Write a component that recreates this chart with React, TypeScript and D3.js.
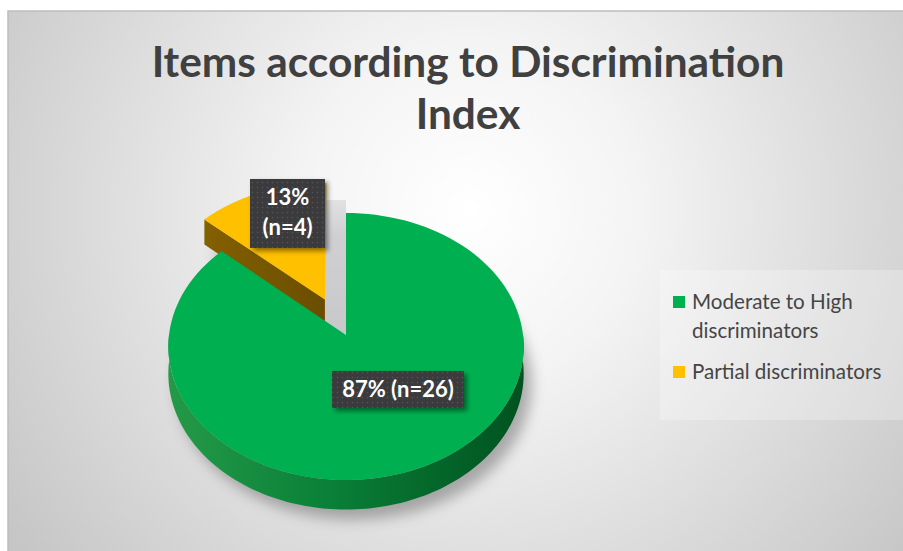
import React from "react";
import * as d3 from "d3";

const categories = ["Moderate to High discriminators", "Partial discriminators"];
const counts = [26, 4];
const percentLabels = ["87% (n=26)", "13%|(n=4)"];
const colors = ["#00B050", "#FFC000"];
const titleLines = ["Items according to Discrimination", "Index"];
const legendLines = [["Moderate to High", "discriminators"], ["Partial discriminators"]];

const W = 903, H = 551;
const cx = 346, cy = 335, R = 177, B = 132.5, K = 0.0861, D = 27;
const EXPLODE = [0, 0.3];

function proj(x: number, u: number, h: number): [number, number] {
  const s = 1 / (1 - K * u);
  return [cx + R * x * s, cy + B * u * s + D * h * s];
}

function ptAt(theta: number, off: [number, number], h: number, r = 1) {
  return proj(r * Math.sin(theta) + off[0], -r * Math.cos(theta) + off[1], h);
}

function arcPts(a0: number, a1: number, off: [number, number], h: number) {
  const n = 120;
  const pts: [number, number][] = [];
  for (let i = 0; i <= n; i++) {
    const t = a0 + ((a1 - a0) * i) / n;
    pts.push(ptAt(t, off, h));
  }
  return pts;
}

const line = d3.line<[number, number]>();

export default function App() {
  const pie = d3.pie<number>().sort(null)(counts);
  const slices = pie.map((p, i) => {
    const mid = (p.startAngle + p.endAngle) / 2;
    const e = EXPLODE[i];
    const off: [number, number] = [e * Math.sin(mid), -e * Math.cos(mid)];
    const center = proj(off[0], off[1], 0);
    const top = [center, ...arcPts(p.startAngle, p.endAngle, off, 0)];
    return { p, off, center, top, i };
  });

  const green = slices[0];
  const yellow = slices[1];
  const wa0 = Math.max(green.p.startAngle, Math.PI / 2);
  const wa1 = Math.min(green.p.endAngle, (3 * Math.PI) / 2);
  const wallTop = arcPts(wa0, wa1, green.off, 0);
  const wallBot = arcPts(wa0, wa1, green.off, 1).reverse();
  const greenWall = line([...wallTop, ...wallBot]) + "Z";

  const ya = yellow.p.startAngle;
  const yc0 = proj(yellow.off[0], yellow.off[1], 0);
  const yc1 = proj(yellow.off[0], yellow.off[1], 1);
  const yr0 = ptAt(ya, yellow.off, 0);
  const yr1 = ptAt(ya, yellow.off, 1);
  const yellowFace = line([yc0, yr0, yr1, yc1]) + "Z";

  const greenBottom = arcPts(green.p.startAngle, green.p.endAngle, green.off, 1);
  const greenSil = line([proj(green.off[0], green.off[1], 1), ...greenBottom]) + "Z";
  const yellowSil = line([yc1, ...arcPts(yellow.p.startAngle, yellow.p.endAngle, yellow.off, 1)]) + "Z";
  const gc = green.center;

  return (
    <div style={{ position: "fixed", left: 0, top: 0 }}>
      <svg width={W} height={H} style={{ display: "block" }}>
        <defs>
          <radialGradient id="bg" cx="470" cy="210" r="560" gradientUnits="userSpaceOnUse">
            <stop offset="0" stopColor="#ffffff" />
            <stop offset="0.3" stopColor="#f4f4f4" />
            <stop offset="1" stopColor="#c6c6c6" />
          </radialGradient>
          <linearGradient id="wall" x1="168" x2="524" y1="0" y2="0" gradientUnits="userSpaceOnUse">
            <stop offset="0" stopColor="#249a48" />
            <stop offset="0.45" stopColor="#0a8038" />
            <stop offset="1" stopColor="#00521f" />
          </linearGradient>
          <linearGradient id="brown" x1="200" x2="325" y1="0" y2="0" gradientUnits="userSpaceOnUse">
            <stop offset="0" stopColor="#846100" />
            <stop offset="1" stopColor="#6a4d00" />
          </linearGradient>
          <linearGradient id="gap" x1="0" x2="0" y1="200" y2="337" gradientUnits="userSpaceOnUse">
            <stop offset="0" stopColor="#e2e2e4" />
            <stop offset="0.25" stopColor="#d0d0d2" />
            <stop offset="1" stopColor="#c8c8ca" />
          </linearGradient>
          <filter id="blur" x="-20%" y="-20%" width="140%" height="140%">
            <feGaussianBlur stdDeviation="7" />
          </filter>
          <filter id="lblShadow" x="-20%" y="-20%" width="150%" height="150%">
            <feDropShadow dx="3" dy="3" stdDeviation="2.5" floodColor="#000" floodOpacity="0.45" />
          </filter>
          <pattern id="dots" width="5" height="5" patternUnits="userSpaceOnUse">
            <rect width="5" height="5" fill="#3b3b3d" />
            <circle cx="2.5" cy="2.5" r="0.8" fill="#555558" />
          </pattern>
        </defs>
        <rect x={0} y={0} width={W} height={H} fill="#ffffff" />
        <rect x={8} y={11} width={W} height={H} fill="url(#bg)" stroke="#bdbdbd" strokeWidth={1.5} />

        {titleLines.map((t, i) => (
          <text key={i} x={468} y={77 + i * 52} textAnchor="middle" fontFamily="Lato, 'Open Sans', sans-serif"
            fontWeight={700} fontSize={42.4} fill="#404040">{t}</text>
        ))}

        <g filter="url(#blur)" opacity={0.45} transform="translate(8,10)">
          <path d={greenSil} fill="#555" />
          <path d={yellowSil} fill="#555" />
        </g>
        <path d={line([[yc0[0], 200], [gc[0], 200], [gc[0], gc[1]], yc1]) + "Z"} fill="url(#gap)" />

        <path d={yellowFace} fill="url(#brown)" />
        <path d={line(yellow.top) + "Z"} fill={colors[1]} />

        <path d={greenWall} fill="url(#wall)" />
        <path d={line(green.top) + "Z"} fill={colors[0]} />

        <g filter="url(#lblShadow)">
          <rect x={250} y={179} width={75} height={69} fill="url(#dots)" />
          <rect x={332} y={371} width={132} height={37} fill="url(#dots)" />
        </g>
        {percentLabels[1].split("|").map((t, i) => (
          <text key={i} x={287.5} y={205 + i * 30} textAnchor="middle" fontFamily="Lato, sans-serif"
            fontWeight={700} fontSize={22} fill="#ffffff">{t}</text>
        ))}
        <text x={398} y={397} textAnchor="middle" fontFamily="Lato, sans-serif" fontWeight={700}
          fontSize={22} fill="#ffffff">{percentLabels[0]}</text>

        <rect x={660} y={270} width={250} height={150} fill="#ffffff" opacity={0.25} />
        {categories.map((c, i) => {
          const y0 = i === 0 ? 296 : 366;
          return (
            <g key={c}>
              <rect x={673} y={y0} width={12} height={12} fill={colors[i]} />
              {legendLines[i].map((l, j) => (
                <text key={j} x={692} y={y0 + 13 + j * 29} fontFamily="Lato, sans-serif" fontSize={20.6} fill="#454545">{l}</text>
              ))}
            </g>
          );
        })}
      </svg>
    </div>
  );
}
